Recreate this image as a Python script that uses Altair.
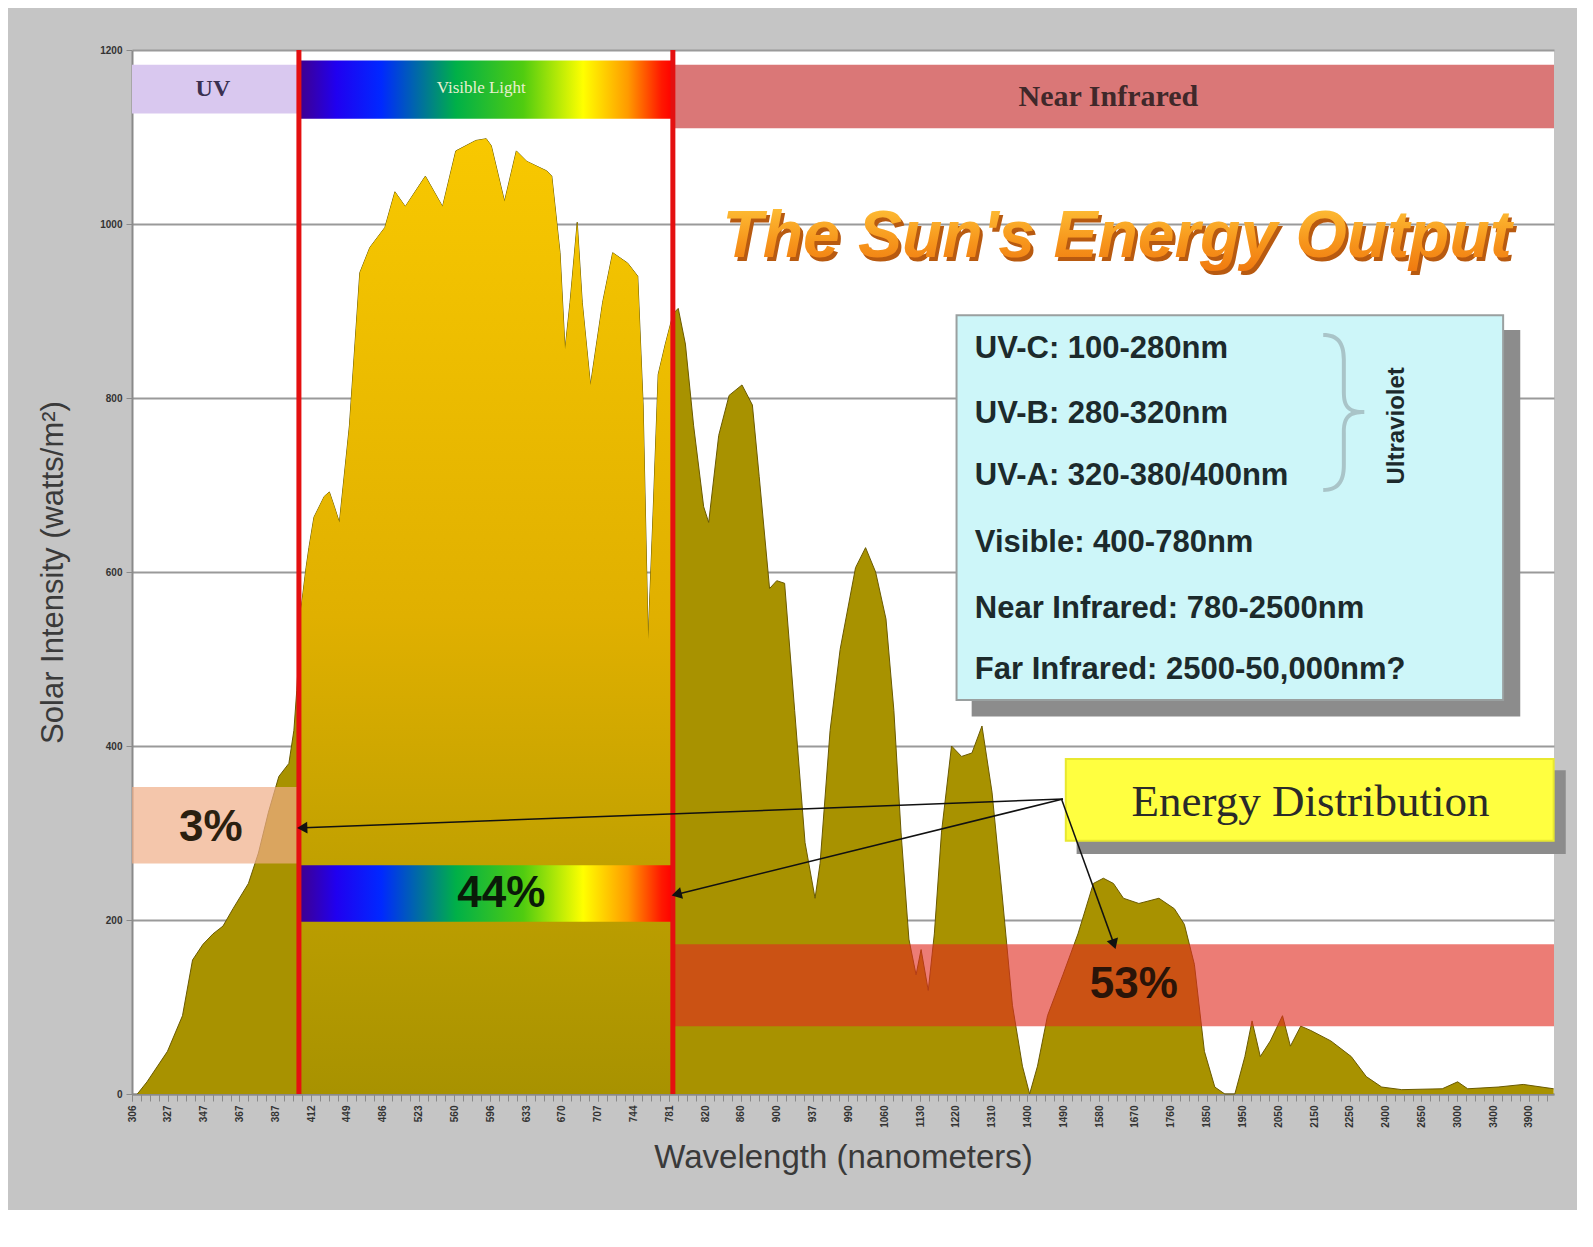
import altair as alt
import pandas as pd

# ---------------- data ----------------
# category axis: one label per category step (Excel-style category axis)
tick_labels = ["306", "327", "347", "367", "387", "412", "449", "486", "523", "560",
               "596", "633", "670", "707", "744", "781", "820", "860", "900", "937",
               "990", "1060", "1130", "1220", "1310", "1400", "1490", "1580", "1670", "1760",
               "1850", "1950", "2050", "2150", "2250", "2400", "2650", "3000", "3400", "3900"]

# spectrum: position on the category axis, intensity (W/m^2)
spec_pos = [0.15, 0.42, 0.99, 1.41, 1.69, 1.98, 2.26, 2.54, 2.82, 3.25, 3.53, 3.81, 4.10, 4.38,
            4.52, 4.60, 4.72, 4.86, 4.94, 5.08, 5.37, 5.51, 5.65, 5.79, 6.07, 6.36, 6.64, 7.06,
            7.34, 7.63, 8.19, 8.67, 9.04, 9.60, 9.89, 10.03, 10.40, 10.73, 11.02, 11.58, 11.72,
            11.95, 12.09, 12.23, 12.43, 12.57, 12.80, 13.14, 13.42, 13.84, 14.12, 14.27, 14.41,
            14.55, 14.69, 14.89, 15.11, 15.25, 15.45, 15.68, 15.96, 16.10, 16.38, 16.67, 17.03,
            17.32, 17.51, 17.80, 18.00, 18.22, 18.50, 18.79, 19.07, 19.21, 19.49, 19.77, 20.20,
            20.48, 20.76, 21.05, 21.27, 21.47, 21.69, 21.89, 22.03, 22.23, 22.40, 22.60, 22.88,
            23.16, 23.45, 23.73, 24.01, 24.29, 24.58, 24.86, 25.06, 25.28, 25.56, 25.99, 26.41,
            26.84, 27.12, 27.40, 27.68, 28.11, 28.67, 29.10, 29.38, 29.66, 29.94, 30.23, 30.51,
            30.79, 31.07, 31.27, 31.50, 31.78, 32.12, 32.34, 32.63, 32.91, 33.47, 34.04, 34.46,
            34.89, 35.45, 36.58, 37.01, 37.29, 38.14, 38.84, 39.69]
spec_val = [0, 14, 49, 90, 154, 172, 184, 193, 213, 242, 277, 324, 365, 380,
            418, 464, 558, 605, 628, 663, 687, 692, 675, 657, 768, 944, 973, 996,
            1037, 1020, 1055, 1020, 1084, 1096, 1098, 1090, 1026, 1084, 1072, 1061, 1055,
            967, 856, 910, 1002, 910, 815, 910, 967, 955, 940, 792, 523,
            670, 827, 862, 897, 903, 862, 768, 675, 657, 757, 803, 815,
            792, 710, 581, 590, 587, 441, 289, 225, 265, 418, 511, 605,
            628, 600, 546, 441, 301, 178, 137, 166, 119, 184, 301, 400,
            388, 392, 423, 347, 230, 102, 32, 0, 32, 90, 137, 184,
            242, 248, 242, 225, 219, 225, 213, 195, 149, 49, 8, 0,
            0, 43, 84, 43, 61, 90, 55, 78, 73, 61, 43, 20,
            8, 5, 6, 14, 6, 8, 11, 6]

X_MAX = 39.7
VIS_START = 4.66   # 400 nm
VIS_END = 15.1     # 780 nm

region_names = ["UV", "Visible Light", "Near Infrared"]
share_labels = ["3%", "44%", "53%"]
info_lines = ["UV-C: 100-280nm", "UV-B: 280-320nm", "UV-A: 320-380/400nm",
              "Visible: 400-780nm", "Near Infrared: 780-2500nm", "Far Infrared: 2500-50,000nm?"]
info_vals = [856, 782, 710, 633, 558, 487]

spectrum = pd.DataFrame({"pos": spec_pos, "val": spec_val})

SPECTRUM_STOPS = [
    alt.GradientStop(offset=0.0, color="#40008c"),
    alt.GradientStop(offset=0.1, color="#2000f0"),
    alt.GradientStop(offset=0.22, color="#0028ff"),
    alt.GradientStop(offset=0.42, color="#00b048"),
    alt.GradientStop(offset=0.6, color="#50cc10"),
    alt.GradientStop(offset=0.76, color="#ffff00"),
    alt.GradientStop(offset=0.88, color="#ff9a00"),
    alt.GradientStop(offset=0.97, color="#ff1800"),
    alt.GradientStop(offset=1.0, color="#ff0000"),
]
spec_grad = alt.Gradient(gradient="linear", stops=SPECTRUM_STOPS, x1=0, x2=1, y1=0, y2=0)

xscale = alt.Scale(domain=[0, X_MAX], nice=False, zero=False)
yscale = alt.Scale(domain=[0, 1200], nice=False)

label_expr = str(tick_labels) + "[round(datum.value)]"

X = alt.X("pos:Q", scale=xscale, axis=alt.Axis(
    title="Wavelength (nanometers)", values=list(range(len(tick_labels))), tickCount=1000,
    labelExpr=label_expr, labelAngle=270, labelFontSize=10, labelFontWeight="bold",
    labelColor="#333333", labelFont="Liberation Sans", labelOverlap=False, labelPadding=4,
    labelAlign="right", labelBaseline="middle",
    tickColor="#8a8a8a", tickSize=7, domainColor="#8a8a8a", domainWidth=2,
    grid=False, titleFontSize=33, titleFont="Liberation Sans", titleFontWeight="normal",
    titleColor="#3a3a3a", titlePadding=14))
Y = alt.Y("val:Q", scale=yscale, axis=alt.Axis(
    title="Solar Intensity (watts/m²)", values=[0, 200, 400, 600, 800, 1000, 1200],
    format="d",
    labelFontSize=10, labelFontWeight="bold", labelColor="#333333", labelFont="Liberation Sans",
    labelPadding=4, tickColor="#8a8a8a", tickSize=6, domainColor="#8a8a8a", domainWidth=2,
    grid=True, gridColor="#9a9a9a", gridWidth=2,
    titleFontSize=31, titleFont="Liberation Sans", titleFontWeight="normal",
    titleColor="#3a3a3a", titlePadding=30))

# base area (olive)
area = alt.Chart(spectrum).mark_area(
    color="#a89200", opacity=1, line={"color": "#6a5a00", "strokeWidth": 1}).encode(x=X, y=Y)

# visible part of the area (brighter gold gradient)
vis_area = alt.Chart(spectrum).transform_filter(
    (alt.datum.pos >= VIS_START) & (alt.datum.pos <= VIS_END + 0.02)
).mark_area(opacity=1, color=alt.Gradient(gradient="linear", x1=0, x2=0, y1=0, y2=1, stops=[
    alt.GradientStop(offset=0.0, color="#f8c800"),
    alt.GradientStop(offset=0.5, color="#e0b000"),
    alt.GradientStop(offset=0.8, color="#bc9e00"),
    alt.GradientStop(offset=1.0, color="#a89200")])).encode(x="pos:Q", y="val:Q")

# flat colour bands
bands = pd.DataFrame({
    "pos": [0, VIS_END, 0, VIS_END],
    "pos2": [VIS_START, X_MAX, VIS_START, X_MAX],
    "val": [1127, 1110, 265, 78],
    "val2": [1183, 1183, 353, 172],
    "col": ["#d9c8ef", "#d87070", "#f0ae88", "#e02c20"],
    "op": [1.0, 0.95, 0.7, 0.62],
})
band_layer = alt.Chart(bands).mark_rect().encode(
    x="pos:Q", x2="pos2", y="val:Q", y2="val2",
    color=alt.Color("col:N", scale=None), opacity=alt.Opacity("op:Q", scale=None))

# spectrum-gradient bands (visible light strip and 44% strip)
grad_bands = pd.DataFrame({"pos": [VIS_START, VIS_START], "pos2": [VIS_END, VIS_END],
                           "val": [1121, 198], "val2": [1188, 263]})
grad_layer = alt.Chart(grad_bands).mark_rect(color=spec_grad).encode(
    x="pos:Q", x2="pos2", y="val:Q", y2="val2")

# red boundary lines at 400 and 780 nm
bounds = pd.DataFrame({"pos": [VIS_START, VIS_END], "val": [0, 0], "val2": [1200, 1200]})
red_lines = alt.Chart(bounds).mark_rule(color="#e41010", strokeWidth=5).encode(
    x="pos:Q", y="val:Q", y2="val2")

# region names in the top strips
regions = pd.DataFrame({"pos": [2.26, 9.75, 27.26], "val": [1155, 1156, 1146],
                        "label": region_names})
region_uv = alt.Chart(regions.iloc[[0]]).mark_text(
    font="Liberation Serif", fontWeight="bold", fontSize=24, color="#3a3050").encode(
    x="pos:Q", y="val:Q", text="label:N")
region_vis = alt.Chart(regions.iloc[[1]]).mark_text(
    font="Liberation Serif", fontSize=17, color="#e8f0d0").encode(
    x="pos:Q", y="val:Q", text="label:N")
region_nir = alt.Chart(regions.iloc[[2]]).mark_text(
    font="Liberation Serif", fontWeight="bold", fontSize=30, color="#40282a").encode(
    x="pos:Q", y="val:Q", text="label:N")

# percentage labels
shares = pd.DataFrame({"pos": [2.2, 10.31, 27.97], "val": [306, 230, 125],
                       "label": share_labels, "col": ["#2a2010", "#0a1a08", "#2a1408"]})
share_text = alt.Chart(shares).mark_text(
    font="Liberation Sans", fontWeight="bold", fontSize=44).encode(
    x="pos:Q", y="val:Q", text="label:N", color=alt.Color("col:N", scale=None))

# title with shadow
title_df = pd.DataFrame({"pos": [27.5], "val": [985], "label": ["The Sun's Energy Output"]})
title_font = "Liberation Sans"
title_shadow = alt.Chart(title_df).mark_text(
    font=title_font, fontWeight="bold", fontStyle="italic", fontSize=66,
    color="#b85a10", dx=3, dy=4).encode(x="pos:Q", y="val:Q", text="label:N")
title_main = alt.Chart(title_df).mark_text(
    font=title_font, fontWeight="bold", fontStyle="italic", fontSize=66,
    color=alt.Gradient(gradient="linear", x1=0, x2=0, y1=0, y2=1, stops=[
        alt.GradientStop(offset=0.0, color="#ffc83c"),
        alt.GradientStop(offset=0.6, color="#f7961c"),
        alt.GradientStop(offset=1.0, color="#f07a10")])).encode(
    x="pos:Q", y="val:Q", text="label:N")

# info box + shadow, energy box + shadow
boxes = pd.DataFrame({
    "pos": [23.47, 23.02, 26.40, 26.07],
    "pos2": [38.73, 38.28, 40.0, 39.69],
    "val": [435, 453, 277, 291],
    "val2": [877, 895, 371, 385],
    "col": ["#8c8c8c", "#cdf6f9", "#8c8c8c", "#ffff40"],
    "stroke": ["#8c8c8c", "#9aa0a0", "#8c8c8c", "#e8e830"],
})
box_layer = alt.Chart(boxes).mark_rect(strokeWidth=2).encode(
    x="pos:Q", x2="pos2", y="val:Q", y2="val2",
    color=alt.Color("col:N", scale=None), stroke=alt.Stroke("stroke:N", scale=None))

info = pd.DataFrame({"pos": [23.53] * len(info_lines), "val": info_vals, "label": info_lines})
info_text = alt.Chart(info).mark_text(
    font="Liberation Sans", fontWeight="bold", fontSize=31, align="left",
    color="#1c2a2c").encode(x="pos:Q", y="val:Q", text="label:N")

brace = alt.Chart(pd.DataFrame({"pos": [33.85], "val": [780], "label": ["}"]})).mark_text(
    font="Inter", fontWeight=100, fontSize=175,
    color="#a9c4c8").encode(x="pos:Q", y="val:Q", text="label:N")
uv_word = alt.Chart(pd.DataFrame({"pos": [35.31], "val": [768], "label": ["Ultraviolet"]})).mark_text(
    font="Liberation Sans", fontWeight="bold", fontSize=24, angle=270,
    color="#1c2a2c").encode(x="pos:Q", y="val:Q", text="label:N")

energy = alt.Chart(pd.DataFrame({"pos": [32.9], "val": [336], "label": ["Energy Distribution"]})).mark_text(
    font="Liberation Serif", fontSize=45, color="#2a2a2a").encode(
    x="pos:Q", y="val:Q", text="label:N")

# arrows
arrows = pd.DataFrame({
    "pos": [25.99, 25.99, 25.95],
    "val": [339, 339, 339],
    "pos2": [4.80, 15.25, 27.40],
    "val2": [306, 230, 174],
    "ang": [268, 256, 162],
})
arrow_lines = alt.Chart(arrows).mark_rule(color="#111111", strokeWidth=1.5).encode(
    x="pos:Q", y="val:Q", x2="pos2", y2="val2")
arrow_heads = alt.Chart(arrows).mark_point(
    shape="triangle", filled=True, size=140, color="#111111", opacity=1).encode(
    x="pos2:Q", y="val2:Q", angle=alt.Angle("ang:Q", scale=None))

main = alt.layer(
    area, vis_area, band_layer, grad_layer, red_lines,
    region_uv, region_vis, region_nir,
    box_layer, info_text, brace, uv_word,
    title_shadow, title_main,
    energy, arrow_lines, arrow_heads, share_text,
)

# dense minor ticks along the category axis
minor_vals = [i * 0.25 for i in range(0, 159)]
minor = alt.Chart(pd.DataFrame({"pos": minor_vals})).mark_point(
    opacity=0).encode(x=alt.X("pos:Q", axis=alt.Axis(
        orient="bottom", values=minor_vals, tickCount=1000, labels=False,
        title=None, domain=False, grid=False, tickColor="#8a8a8a", tickSize=7)))

chart = alt.layer(main, minor).resolve_axis(x="independent").properties(
    width=1422, height=1044,
    padding={"left": 124, "top": 42, "right": 23, "bottom": 116},
    autosize=alt.AutoSizeParams(type="none"),
    background="#c5c5c5",
).configure_view(fill="white", stroke=None)

chart.save("out.html", embed_options={"renderer": "svg", "actions": False})
